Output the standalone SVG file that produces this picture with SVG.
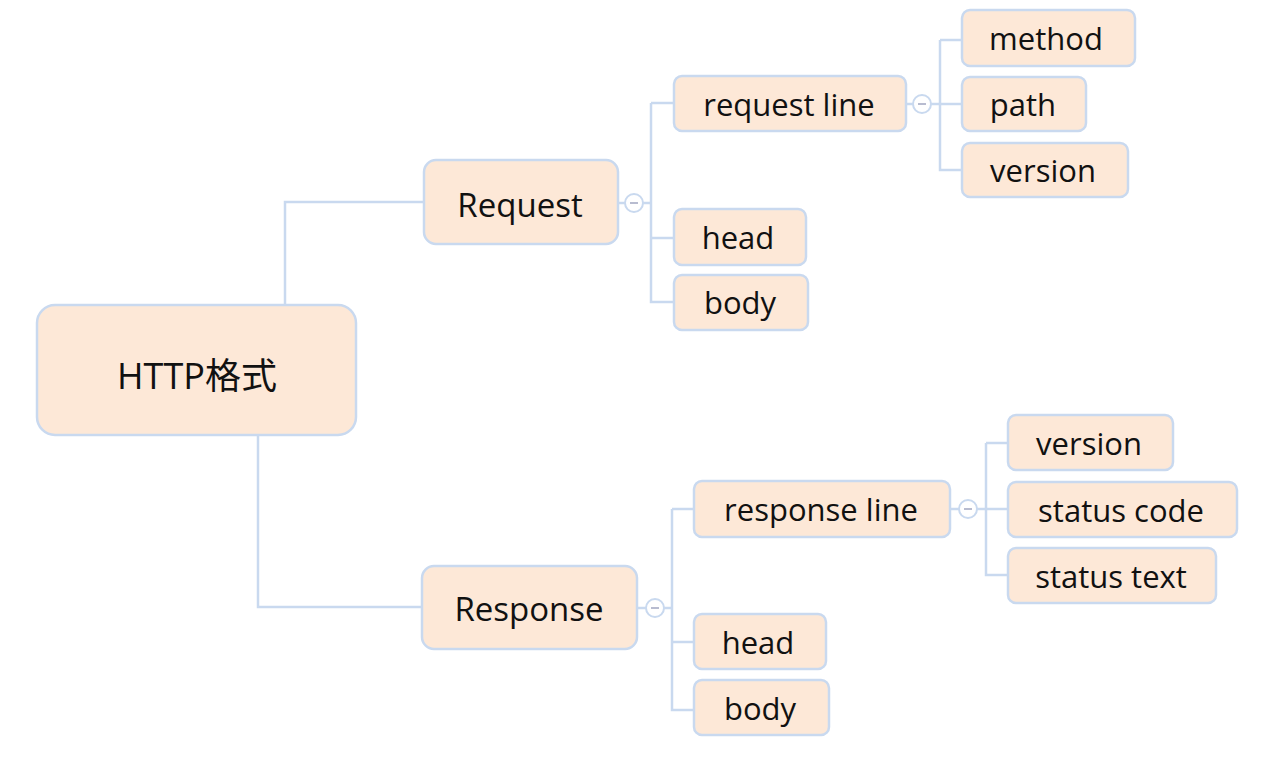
<svg xmlns="http://www.w3.org/2000/svg" width="1263" height="782" viewBox="0 0 1263 782">
<style>
.n rect{fill:#FDE8D7;stroke:#C9D9EF;stroke-width:2.5}
.n text{font-family:"Open Sans","Noto Sans CJK SC",sans-serif;fill:#111;text-anchor:middle;dominant-baseline:central}
.s text{font-size:31px}
.m text{font-size:33px}
.r text{font-size:36px}
.c line,.c path{stroke:#C9D9EF;stroke-width:2.5;fill:none}
.c circle{fill:#fff;stroke:#C9D9EF;stroke-width:2}
.c .dash{stroke:#B8BCD0;stroke-width:2}
</style>
<rect width="1263" height="782" fill="#fff"/>
<g class="c" id="connectors">
<path d="M285 305V202H424"/>
<path d="M258 435V607H422"/>
<path d="M618 203H625"/>
<path d="M643 203H651M651 103H674M651 103V302H674M651 238H674"/>
<path d="M906 104H913"/>
<path d="M931 104H962M940 40H962M940 40V170H962"/>
<path d="M637 608H646"/>
<path d="M664 608H672M672 509H694M672 509V710H694M672 642H694"/>
<path d="M950 509H959"/>
<path d="M977 509H1008M986 443H1008M986 443V575H1008"/>
<circle cx="634" cy="203" r="9"/><line class="dash" x1="630" y1="203" x2="638" y2="203"/>
<circle cx="922" cy="104" r="9"/><line class="dash" x1="918" y1="104" x2="926" y2="104"/>
<circle cx="655" cy="608" r="9"/><line class="dash" x1="651" y1="608" x2="659" y2="608"/>
<circle cx="968" cy="509" r="9"/><line class="dash" x1="964" y1="509" x2="972" y2="509"/>
</g>
<g class="n r" id="root"><rect x="37" y="305" width="319" height="130" rx="18"/><text x="197" y="375">HTTP格式</text></g>
<g class="n m" id="request"><rect x="424" y="160" width="194" height="84" rx="12"/><text x="520" y="204">Request</text></g>
<g class="n m" id="response"><rect x="422" y="566" width="215" height="83" rx="12"/><text x="529" y="608">Response</text></g>
<g class="n s" id="request-line"><rect x="674" y="76" width="232" height="55" rx="8"/><text x="789" y="104">request line</text></g>
<g class="n s" id="req-head"><rect x="674" y="209" width="132" height="56" rx="8"/><text x="738" y="237">head</text></g>
<g class="n s" id="req-body"><rect x="674" y="275" width="134" height="55" rx="8"/><text x="740" y="302">body</text></g>
<g class="n s" id="method"><rect x="962" y="10" width="173" height="56" rx="8"/><text x="1046" y="38">method</text></g>
<g class="n s" id="path"><rect x="962" y="77" width="124" height="54" rx="8"/><text x="1023" y="104">path</text></g>
<g class="n s" id="req-version"><rect x="962" y="143" width="166" height="54" rx="8"/><text x="1043" y="170">version</text></g>
<g class="n s" id="response-line"><rect x="694" y="481" width="256" height="56" rx="8"/><text x="821" y="509">response line</text></g>
<g class="n s" id="res-head"><rect x="694" y="614" width="132" height="55" rx="8"/><text x="758" y="642">head</text></g>
<g class="n s" id="res-body"><rect x="694" y="680" width="135" height="55" rx="8"/><text x="760" y="708">body</text></g>
<g class="n s" id="res-version"><rect x="1008" y="415" width="165" height="55" rx="8"/><text x="1089" y="443">version</text></g>
<g class="n s" id="status-code"><rect x="1008" y="482" width="229" height="55" rx="8"/><text x="1121" y="510">status code</text></g>
<g class="n s" id="status-text"><rect x="1008" y="548" width="208" height="55" rx="8"/><text x="1111" y="576">status text</text></g>
</svg>
